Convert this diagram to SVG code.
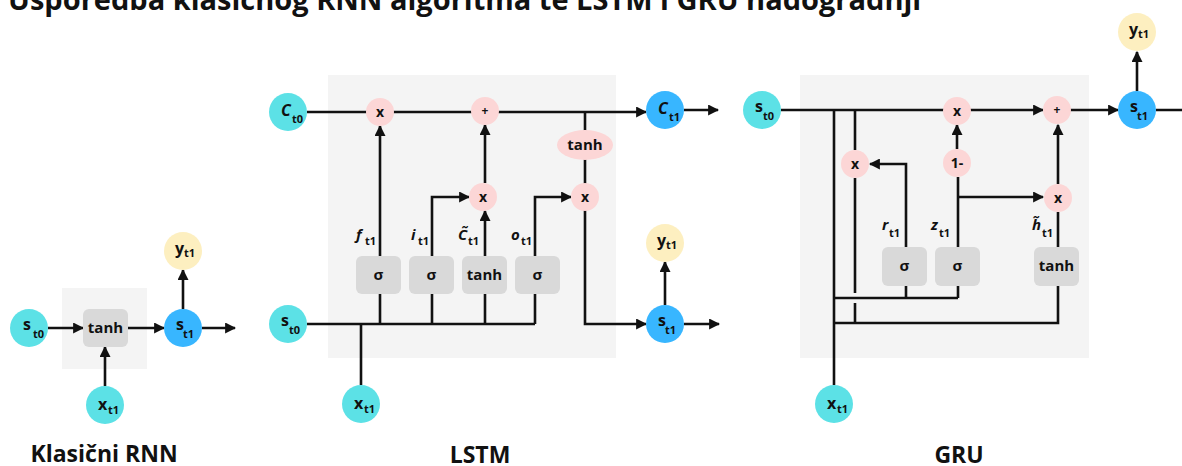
<svg xmlns="http://www.w3.org/2000/svg" width="1182" height="466" viewBox="0 0 1182 466">
<style>
text{font-family:"Open Sans","Liberation Sans",sans-serif;font-weight:700;fill:#111}
.bg{fill:#f4f4f4}
.box{fill:#d9d9d9}
.cy{fill:#5ce1e6}
.bl{fill:#38b6ff}
.ye{fill:#fdefc0}
.pk{fill:#fcd6d6}
.ln{fill:none;stroke:#111;stroke-width:2.6}
.ar{marker-end:url(#ah)}
.m{font-size:16px}
.s{font-size:11px}
.op{font-size:14px;text-anchor:middle}
.g{font-size:15px;text-anchor:middle}
.lb{font-size:15px;font-style:italic}
.cap{font-size:23px;text-anchor:middle}
</style>
<defs>
<marker id="ah" viewBox="0 0 10 10" refX="9" refY="5" markerWidth="11" markerHeight="11" markerUnits="userSpaceOnUse" orient="auto">
<path d="M0,0 L10,5 L0,10 z" fill="#111"/>
</marker>
</defs>
<rect width="1182" height="466" fill="#fff"/>
<text x="8" y="10" style="font-size:29px">Usporedba klasičnog RNN algoritma te LSTM i GRU nadogradnji</text>

<g id="backgrounds">
<rect class="bg" x="62" y="288" width="85" height="81"/>
<rect class="bg" x="328" y="75" width="288" height="283"/>
<rect class="bg" x="800" y="75" width="289" height="283"/>
</g>

<g id="connectors">
<!-- RNN -->
<path class="ln ar" d="M48,328 H83"/>
<path class="ln ar" d="M128,328 H164"/>
<path class="ln ar" d="M202,328 H235"/>
<path class="ln ar" d="M183,309 V270"/>
<path class="ln ar" d="M105,386 V347"/>
<!-- LSTM -->
<path class="ln" d="M307,112 H480"/>
<path class="ln ar" d="M485,112 H646"/>
<path class="ln" d="M585,112 V132"/>
<path class="ln" d="M585,158 V185"/>
<path class="ln ar" d="M585,210 V324 H646"/>
<path class="ln ar" d="M684,110 H718"/>
<path class="ln ar" d="M684,324 H719"/>
<path class="ln ar" d="M665,305 V262"/>
<path class="ln" d="M307,324 H535"/>
<path class="ln" d="M380,294 V324 M432,294 V324 M485,294 V324 M535,294 V324"/>
<path class="ln" d="M361,385 V324"/>
<path class="ln ar" d="M380,256 V126"/>
<path class="ln ar" d="M432,256 V197 H469"/>
<path class="ln ar" d="M485,256 V211"/>
<path class="ln ar" d="M485,183 V125"/>
<path class="ln ar" d="M535,256 V197 H571"/>
<!-- GRU -->
<path class="ln" d="M781,110 H950"/>
<path class="ln ar" d="M957,110 H1043"/>
<path class="ln ar" d="M1057,110 H1118"/>
<path class="ln" d="M1156,110 H1190"/>
<path class="ln ar" d="M1137,91 V52"/>
<path class="ln" d="M834,110 V385"/>
<path class="ln" d="M855,110 V150"/>
<path class="ln" d="M855,178 V293"/>
<path class="ln" d="M855,303 V324"/>
<path class="ln" d="M834,298 H958"/>
<path class="ln" d="M906,298 V286 M958,298 V286"/>
<path class="ln ar" d="M906,247 V164 H870"/>
<path class="ln" d="M958,247 V177"/>
<path class="ln ar" d="M957,149 V125"/>
<path class="ln ar" d="M958,197 H1043"/>
<path class="ln" d="M1058,247 V212"/>
<path class="ln ar" d="M1058,184 V125"/>
<path class="ln" d="M834,323 H1058 V286"/>
</g>

<!-- RNN nodes -->
<g id="rnn-s-t0"><circle class="cy" cx="29" cy="328" r="19"/><text x="23" y="330" class="m">s</text><text x="33" y="338" class="s">t0</text></g>
<g id="rnn-tanh"><rect class="box" x="83" y="309" width="45" height="38" rx="6"/><text x="105.5" y="333" class="g">tanh</text></g>
<g id="rnn-s-t1"><circle class="bl" cx="183" cy="328" r="19"/><text x="176" y="330" class="m">s</text><text x="183" y="338" class="s">t1</text></g>
<g id="rnn-y-t1"><circle class="ye" cx="183" cy="251" r="19"/><text x="175" y="254" class="m">y</text><text x="184" y="257" class="s">t1</text></g>
<g id="rnn-x-t1"><circle class="cy" cx="105" cy="405" r="19"/><text x="98" y="410" class="m">x</text><text x="108" y="414" class="s">t1</text></g>
<text id="rnn-label" x="104" y="462" class="cap">Klasični RNN</text>

<!-- LSTM nodes -->
<g id="lstm-c-t0"><circle class="cy" cx="288" cy="112" r="19"/><text x="281" y="116" class="m" style="font-style:italic">C</text><text x="292" y="123" class="s">t0</text></g>
<g id="lstm-forget-x"><circle class="pk" cx="380" cy="112" r="14"/><text x="380" y="117" class="op">x</text></g>
<g id="lstm-plus"><circle class="pk" cx="485" cy="111" r="14"/><text x="485" y="115" class="op" style="font-size:12px">+</text></g>
<g id="lstm-c-t1"><circle class="bl" cx="665" cy="110" r="19"/><text x="658" y="114" class="m" style="font-style:italic">C</text><text x="669" y="121" class="s">t1</text></g>
<g id="lstm-tanh-out"><ellipse class="pk" cx="585" cy="145" rx="28" ry="15"/><text x="585" y="150" class="g">tanh</text></g>
<g id="lstm-input-x"><circle class="pk" cx="483" cy="197" r="14"/><text x="483" y="202" class="op">x</text></g>
<g id="lstm-output-x"><circle class="pk" cx="585" cy="197" r="14"/><text x="585" y="202" class="op">x</text></g>
<g id="lstm-y-t1"><circle class="ye" cx="665" cy="243" r="19"/><text x="657" y="246" class="m">y</text><text x="666" y="249" class="s">t1</text></g>
<g id="lstm-s-t1"><circle class="bl" cx="665" cy="324" r="19"/><text x="658" y="326" class="m">s</text><text x="665" y="334" class="s">t1</text></g>
<g id="lstm-s-t0"><circle class="cy" cx="288" cy="324" r="19"/><text x="281" y="326" class="m">s</text><text x="289" y="334" class="s">t0</text></g>
<g id="lstm-x-t1"><circle class="cy" cx="361" cy="404" r="19"/><text x="354" y="409" class="m">x</text><text x="364" y="413" class="s">t1</text></g>
<g id="lstm-gate-f"><rect class="box" x="356" y="256" width="45" height="38" rx="6"/><text x="378.5" y="280" class="g">σ</text></g>
<g id="lstm-gate-i"><rect class="box" x="409" y="256" width="45" height="38" rx="6"/><text x="431.5" y="280" class="g">σ</text></g>
<g id="lstm-gate-c"><rect class="box" x="462" y="256" width="45" height="38" rx="6"/><text x="484.5" y="280" class="g">tanh</text></g>
<g id="lstm-gate-o"><rect class="box" x="515" y="256" width="45" height="38" rx="6"/><text x="537.5" y="280" class="g">σ</text></g>
<g id="lstm-labels">
<text x="356" y="240" class="lb">f</text><text x="365" y="245" class="s">t1</text>
<text x="411" y="240" class="lb">i</text><text x="418" y="245" class="s">t1</text>
<text x="458" y="240" class="lb">C̃</text><text x="468" y="245" class="s">t1</text>
<text x="511" y="240" class="lb">o</text><text x="521" y="245" class="s">t1</text>
</g>
<text id="lstm-label" x="480" y="463" class="cap">LSTM</text>

<!-- GRU nodes -->
<g id="gru-s-t0"><circle class="cy" cx="762" cy="110" r="19"/><text x="755" y="112" class="m">s</text><text x="763" y="120" class="s">t0</text></g>
<g id="gru-x-top"><circle class="pk" cx="957" cy="111" r="14"/><text x="957" y="116" class="op">x</text></g>
<g id="gru-plus"><circle class="pk" cx="1057" cy="110" r="14"/><text x="1057" y="114" class="op" style="font-size:12px">+</text></g>
<g id="gru-s-t1"><circle class="bl" cx="1137" cy="110" r="19"/><text x="1130" y="112" class="m">s</text><text x="1137" y="120" class="s">t1</text></g>
<g id="gru-y-t1"><circle class="ye" cx="1137" cy="32" r="19"/><text x="1129" y="35" class="m">y</text><text x="1138" y="38" class="s">t1</text></g>
<g id="gru-one-minus"><circle class="pk" cx="957" cy="163" r="14"/><text x="957" y="168" class="op">1-</text></g>
<g id="gru-reset-x"><circle class="pk" cx="855" cy="164" r="14"/><text x="855" y="169" class="op">x</text></g>
<g id="gru-update-x"><circle class="pk" cx="1058" cy="198" r="14"/><text x="1058" y="203" class="op">x</text></g>
<g id="gru-gate-r"><rect class="box" x="882" y="247" width="45" height="39" rx="6"/><text x="904.5" y="271" class="g">σ</text></g>
<g id="gru-gate-z"><rect class="box" x="935" y="247" width="45" height="39" rx="6"/><text x="957.5" y="271" class="g">σ</text></g>
<g id="gru-gate-h"><rect class="box" x="1034" y="247" width="45" height="39" rx="6"/><text x="1056.5" y="271" class="g">tanh</text></g>
<g id="gru-x-t1"><circle class="cy" cx="834" cy="404" r="19"/><text x="827" y="409" class="m">x</text><text x="837" y="413" class="s">t1</text></g>
<g id="gru-labels">
<text x="882" y="230" class="lb">r</text><text x="889" y="237" class="s">t1</text>
<text x="931" y="230" class="lb">z</text><text x="939" y="237" class="s">t1</text>
<text x="1032" y="230" class="lb">h̃</text><text x="1042" y="237" class="s">t1</text>
</g>
<text id="gru-label" x="959" y="463" class="cap">GRU</text>
</svg>
